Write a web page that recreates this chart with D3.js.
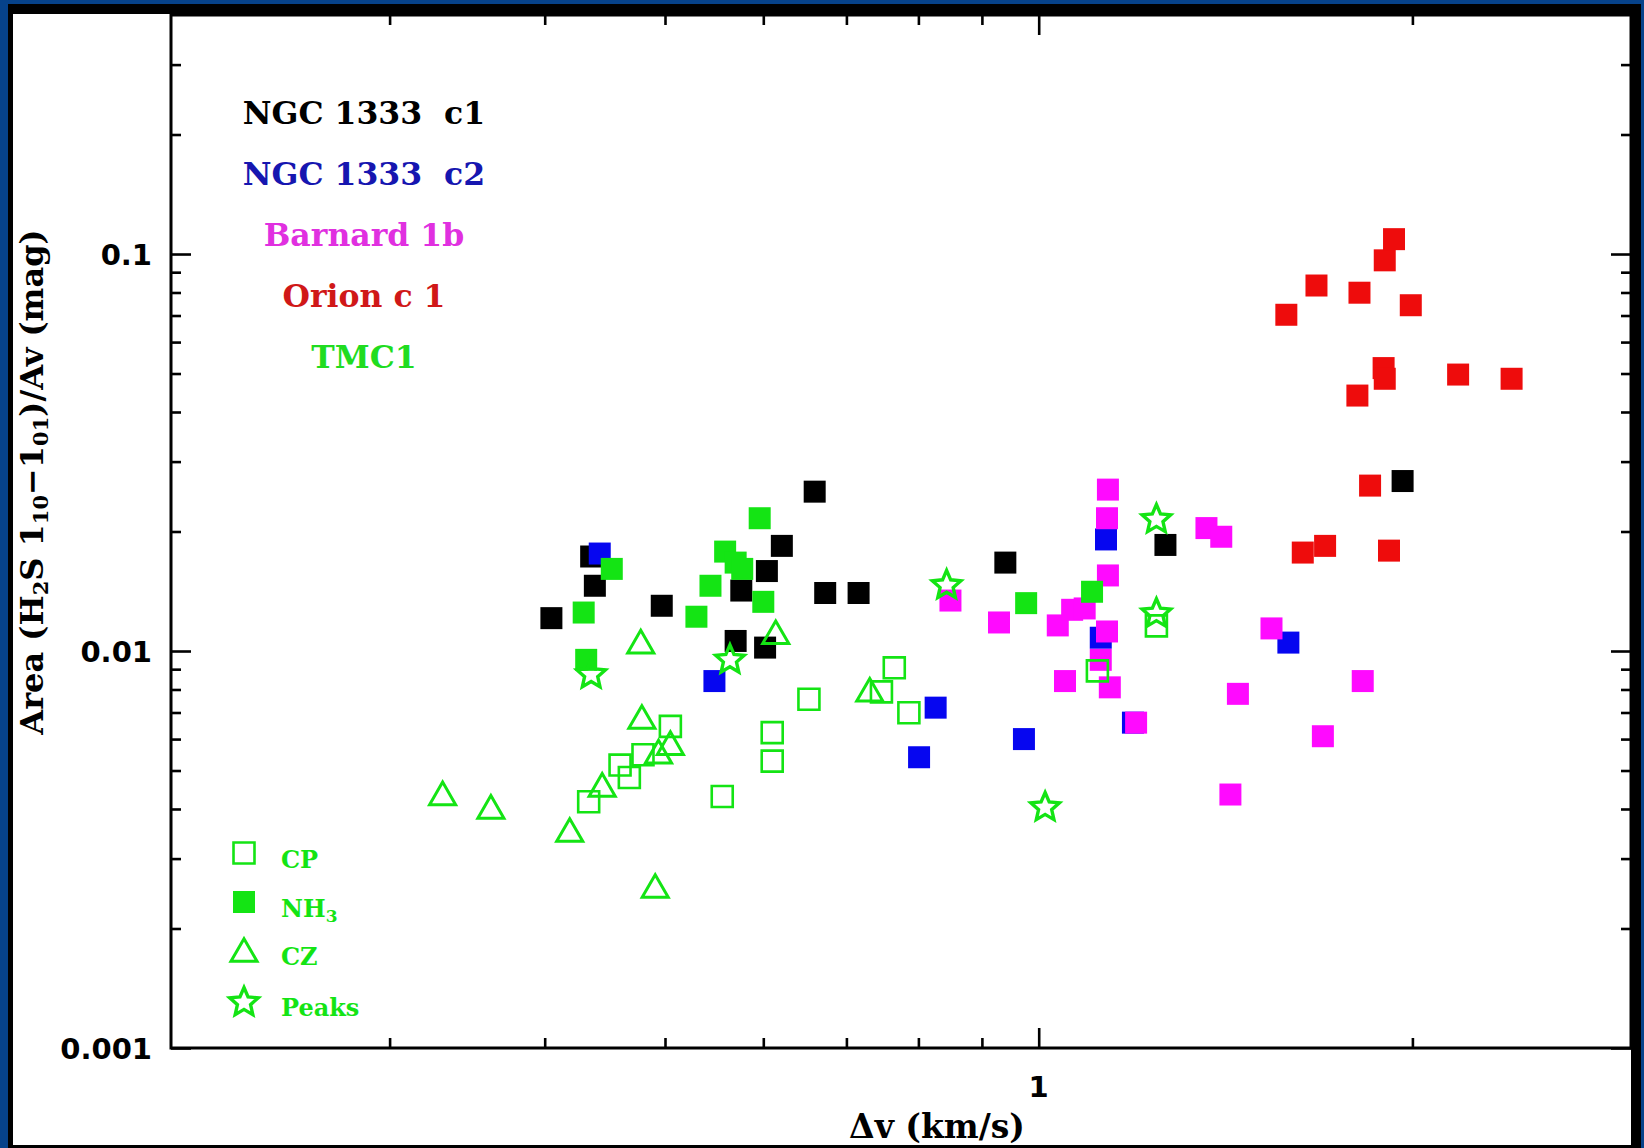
<!DOCTYPE html>
<html>
<head>
<meta charset="utf-8">
<script src="https://cdn.jsdelivr.net/npm/d3@7/dist/d3.min.js"></script>
<style>
  html, body { margin: 0; padding: 0; background: #06428a; }
  svg { display: block; }
</style>
</head>
<body>
<svg id="chart" width="1644" height="1148"></svg>
<script>
// ---------- DATA ----------
const xMajorTicks = [1];
const xMinorTicks = [0.3, 0.4, 0.5, 0.6, 0.7, 0.8, 0.9, 2];
const yMajorTicks = [0.001, 0.01, 0.1];
const yMinorTicks = [0.002, 0.003, 0.004, 0.005, 0.006, 0.007, 0.008, 0.009,
                     0.02, 0.03, 0.04, 0.05, 0.06, 0.07, 0.08, 0.09, 0.2, 0.3];
const xTickLabels = ["1"];
const yTickLabels = ["0.001", "0.01", "0.1"];

const sourceNames = ["NGC 1333  c1", "NGC 1333  c2", "Barnard 1b", "Orion c 1", "TMC1"];
const tmc1Names = ["CP", "NH3", "CZ", "Peaks"];

// NGC 1333 c1 (black)
const ngcC1Dv   = [0.405, 0.436, 0.439, 0.497, 0.576, 0.604, 0.621, 0.660, 0.673, 0.716, 0.570, 0.602, 0.940, 1.265, 1.964];
const ngcC1Area = [0.0121, 0.0173, 0.0146, 0.0130, 0.0142, 0.0159, 0.0184, 0.0252, 0.0140, 0.0140, 0.0106, 0.0102, 0.0167, 0.0185, 0.0268];
// NGC 1333 c2 (blue)
const ngcC2Dv   = [0.443, 0.548, 0.826, 0.801, 0.973, 1.133, 1.122, 1.191, 1.589];
const ngcC2Area = [0.0176, 0.0084, 0.0072, 0.0054, 0.0060, 0.0191, 0.0108, 0.0066, 0.0105];
// Barnard 1b (magenta)
const b1bDv   = [0.849, 0.929, 1.036, 1.064, 1.089, 1.050, 1.137, 1.135, 1.137, 1.135, 1.122, 1.141, 1.198, 1.365, 1.403, 1.447, 1.540, 1.427, 1.694, 1.824];
const b1bArea = [0.0134, 0.0118, 0.0116, 0.0127, 0.0128, 0.0084, 0.0255, 0.0216, 0.0155, 0.0112, 0.0095, 0.0081, 0.0066, 0.0204, 0.0194, 0.0078, 0.0114, 0.00435, 0.0061, 0.0084];
// Orion c 1 (red)
const orionDv   = [1.583, 1.674, 1.813, 1.900, 1.933, 1.994, 1.896, 1.900, 1.806, 2.177, 2.404, 1.849, 1.632, 1.701, 1.915];
const orionArea = [0.0703, 0.0833, 0.0799, 0.0964, 0.109, 0.0743, 0.0516, 0.0485, 0.0440, 0.0497, 0.0485, 0.0261, 0.0177, 0.0184, 0.0179];
// TMC1 NH3 (filled green squares)
const nh3Dv   = [0.430, 0.453, 0.432, 0.530, 0.544, 0.559, 0.570, 0.577, 0.596, 0.600, 0.977, 1.104];
const nh3Area = [0.0125, 0.0161, 0.0095, 0.0122, 0.0146, 0.0178, 0.0167, 0.0161, 0.0216, 0.0133, 0.0132, 0.0141];
// TMC1 CP (open green squares)
const cpDv   = [0.434, 0.460, 0.468, 0.480, 0.505, 0.556, 0.610, 0.610, 0.653, 0.747, 0.765, 0.786, 1.115, 1.244];
const cpArea = [0.00417, 0.00516, 0.00480, 0.00548, 0.00646, 0.00430, 0.00623, 0.00528, 0.00756, 0.00789, 0.00907, 0.00699, 0.00891, 0.01157];
// TMC1 CZ (open green triangles)
const czDv   = [0.331, 0.362, 0.419, 0.445, 0.478, 0.479, 0.491, 0.494, 0.505, 0.614, 0.731];
const czArea = [0.00438, 0.00405, 0.00354, 0.00460, 0.01056, 0.00682, 0.00256, 0.00558, 0.00586, 0.01115, 0.00799];
// TMC1 Peaks (open green stars)
const peaksDv   = [0.436, 0.564, 0.843, 1.012, 1.244, 1.244];
const peaksArea = [0.0088, 0.00958, 0.01476, 0.00407, 0.02163, 0.01252];

// ---------- STYLE / LAYOUT ----------
const W = 1644, H = 1148;
const plot = { left: 171, right: 1631, top: 15, bottom: 1048 };
const GREEN = "#14e414";
const colors = { c1: "#000000", c2: "#0606f0", b1b: "#ff0aff", orion: "#ee0c0c", green: GREEN };
const textColors = ["#000000", "#1616b0", "#e030e0", "#d01818", "#20dc20"];

const svg = d3.select("#chart");

// background frame
svg.append("rect").attr("x", 0).attr("y", 0).attr("width", W).attr("height", H).attr("fill", "#06428a");
svg.append("rect").attr("x", 8).attr("y", 4).attr("width", 1633).attr("height", 1150).attr("fill", "#000");
svg.append("rect").attr("x", 13).attr("y", 14).attr("width", 1618).attr("height", 1131).attr("fill", "#fff");

const x = d3.scaleLog().domain([0.2, 3]).range([plot.left, plot.right]);
const y = d3.scaleLog().domain([0.001, 0.4]).range([plot.bottom, plot.top]);

// custom symbols (bbox-centred)
const triSym = { draw(ctx, size) { const s = Math.sqrt(size), h = s * 0.866;
  ctx.moveTo(0, -h / 2); ctx.lineTo(s / 2, h / 2); ctx.lineTo(-s / 2, h / 2); ctx.closePath(); } };
const starSym = { draw(ctx, size) { const R = Math.sqrt(size) / 2, r = R * 0.46;
  for (let i = 0; i < 10; i++) { const a = -Math.PI / 2 + i * Math.PI / 5; const rr = i % 2 ? r : R;
    const px = rr * Math.cos(a), py = rr * Math.sin(a) + R * 0.1; i ? ctx.lineTo(px, py) : ctx.moveTo(px, py); }
  ctx.closePath(); } };

const marks = svg.append("g");
function drawSeries(dv, area, type, size, fill, stroke, sw) {
  const pts = dv.map((d, i) => ({ dv: d, a: area[i] }));
  marks.append("g").selectAll("path").data(pts).join("path")
    .attr("d", d3.symbol().type(type).size(size))
    .attr("transform", d => `translate(${x(d.dv)},${y(d.a)})`)
    .attr("fill", fill).attr("stroke", stroke).attr("stroke-width", sw);
}
drawSeries(ngcC1Dv, ngcC1Area, d3.symbolSquare, 484, colors.c1, "none", 0);
drawSeries(ngcC2Dv, ngcC2Area, d3.symbolSquare, 484, colors.c2, "none", 0);
drawSeries(b1bDv, b1bArea, d3.symbolSquare, 484, colors.b1b, "none", 0);
drawSeries(orionDv, orionArea, d3.symbolSquare, 484, colors.orion, "none", 0);
drawSeries(nh3Dv, nh3Area, d3.symbolSquare, 484, GREEN, "none", 0);
drawSeries(cpDv, cpArea, d3.symbolSquare, 440, "none", GREEN, 2.6);
drawSeries(czDv, czArea, triSym, 680, "none", GREEN, 3);
drawSeries(peaksDv, peaksArea, starSym, 900, "none", GREEN, 3.4);

// ---------- AXES ----------
function tickAxis(gen, ticks, len, transform) {
  const g = svg.append("g").attr("transform", transform)
    .call(gen.tickValues(ticks).tickSize(len).tickFormat(""));
  g.select(".domain").remove();
  g.selectAll(".tick line").attr("stroke", "#000").attr("stroke-width", 2.6);
}
// bottom (inward = upward)
tickAxis(d3.axisBottom(x), xMajorTicks, -20, `translate(0,${plot.bottom})`);
tickAxis(d3.axisBottom(x), xMinorTicks, -10, `translate(0,${plot.bottom})`);
// top (inward = downward)
tickAxis(d3.axisTop(x), xMajorTicks, -20, `translate(0,${plot.top})`);
tickAxis(d3.axisTop(x), xMinorTicks, -10, `translate(0,${plot.top})`);
// left
tickAxis(d3.axisLeft(y), yMajorTicks, -20, `translate(${plot.left},0)`);
tickAxis(d3.axisLeft(y), yMinorTicks, -10, `translate(${plot.left},0)`);
// right
tickAxis(d3.axisRight(y), yMajorTicks, -20, `translate(${plot.right},0)`);
tickAxis(d3.axisRight(y), yMinorTicks, -10, `translate(${plot.right},0)`);

// frame box
svg.append("rect").attr("x", plot.left).attr("y", plot.top)
  .attr("width", plot.right - plot.left).attr("height", plot.bottom - plot.top)
  .attr("fill", "none").attr("stroke", "#000").attr("stroke-width", 3);

// tick labels
const tickFont = "'DejaVu Sans', sans-serif";
svg.append("g").selectAll("text").data(yMajorTicks).join("text")
  .attr("x", 152).attr("y", d => y(d) + 11)
  .attr("text-anchor", "end").attr("font-family", tickFont).attr("font-weight", "bold")
  .attr("font-size", 29).attr("fill", "#000")
  .text((d, i) => yTickLabels[i]);
svg.append("g").selectAll("text").data(xMajorTicks).join("text")
  .attr("x", d => x(d)).attr("y", 1097)
  .attr("text-anchor", "middle").attr("font-family", tickFont).attr("font-weight", "bold")
  .attr("font-size", 29).attr("fill", "#000")
  .text((d, i) => xTickLabels[i]);

// axis titles
const serif = "'DejaVu Serif', serif";
svg.append("text").attr("x", 937).attr("y", 1138).attr("text-anchor", "middle")
  .attr("font-family", serif).attr("font-weight", "bold").attr("font-size", 33).attr("fill", "#000")
  .text("Δv (km/s)");

const yt = svg.append("text").attr("transform", "translate(43,482) rotate(-90)")
  .attr("text-anchor", "middle").attr("font-family", serif).attr("font-weight", "bold")
  .attr("font-size", 32).attr("fill", "#000");
const subParts = [["Area (H", 0], ["2", 1], ["S 1", 0], ["10", 1], ["−1", 0], ["01", 1], [")/Av (mag)", 0]];
subParts.forEach(([t, sub]) => {
  yt.append("tspan").attr("baseline-shift", sub ? "-25%" : "0%")
    .attr("font-size", sub ? 21 : 32).text(t);
});

// source legend (top-left)
svg.append("g").selectAll("text").data(sourceNames).join("text")
  .attr("x", 364).attr("y", (d, i) => 124 + i * 61)
  .attr("text-anchor", "middle").attr("font-family", serif).attr("font-weight", "bold")
  .attr("font-size", 31.5).attr("fill", (d, i) => textColors[i])
  .attr("xml:space", "preserve").style("white-space", "pre")
  .text(d => d);

// TMC1 marker legend (bottom-left)
const legTypes = [
  { type: d3.symbolSquare, size: 440, fill: "none", sw: 2.6 },
  { type: d3.symbolSquare, size: 484, fill: GREEN, sw: 0 },
  { type: triSym, size: 680, fill: "none", sw: 3 },
  { type: starSym, size: 900, fill: "none", sw: 3.4 }
];
const legY = [853, 902, 950, 1001];
const lg = svg.append("g");
tmc1Names.forEach((name, i) => {
  const t = legTypes[i];
  lg.append("path").attr("d", d3.symbol().type(t.type).size(t.size)())
    .attr("transform", `translate(244,${legY[i]})`)
    .attr("fill", t.fill).attr("stroke", t.fill === "none" ? GREEN : "none").attr("stroke-width", t.sw);
  const tx = lg.append("text").attr("x", 281).attr("y", legY[i] + 15)
    .attr("font-family", serif).attr("font-weight", "bold").attr("font-size", 24).attr("fill", GREEN);
  if (name === "NH3") {
    tx.append("tspan").text("NH");
    tx.append("tspan").attr("baseline-shift", "-30%").attr("font-size", 17).text("3");
  } else {
    tx.text(name);
  }
});
</script>
</body>
</html>
